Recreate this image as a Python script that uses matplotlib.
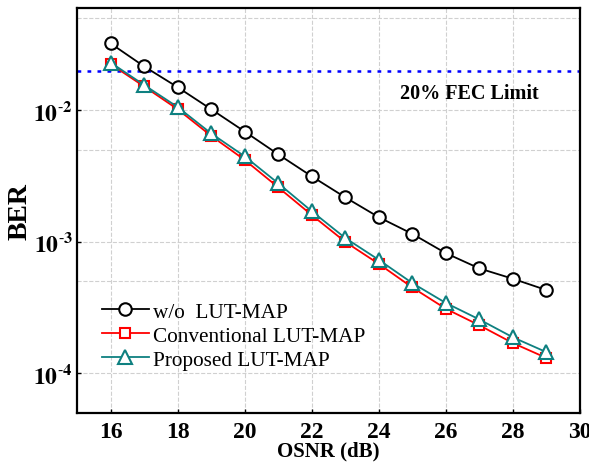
import numpy as np
import matplotlib
matplotlib.use("Agg")
import matplotlib.pyplot as plt
from matplotlib.ticker import FixedLocator, FuncFormatter

# 数据
osnr = [16, 17, 18, 19, 20, 21, 22, 23, 24, 25, 26, 27, 28, 29]
ber_wo = [0.0323, 0.0216, 0.0150, 0.0102, 0.0069, 0.00463, 0.00315, 0.00218,
          0.00154, 0.00115, 0.00082, 0.000628, 0.000524, 0.00043]
ber_conv = [0.0225, 0.0152, 0.0102, 0.0064, 0.0042, 0.0026, 0.0016, 0.00100,
            0.00068, 0.00045, 0.00031, 0.000232, 0.000170, 0.000131]
ber_prop = [0.0231, 0.0156, 0.0106, 0.00668, 0.00447, 0.00279, 0.00171, 0.00107,
            0.00073, 0.000486, 0.000343, 0.000257, 0.000188, 0.000145]
fec_limit = 2e-2
x_ticks = [16, 18, 20, 22, 24, 26, 28, 30]
y_ticks = [1e-4, 1e-3, 1e-2]
y_minor = [5e-4, 5e-3, 5e-2]

plt.rcParams['font.family'] = ['Liberation Serif', 'DejaVu Serif']
plt.rcParams['mathtext.fontset'] = 'stix'

fig = plt.figure(figsize=(5.89, 4.64), dpi=100)
ax = fig.add_axes([0.1307, 0.1078, 0.8540, 0.8728])

ax.axhline(fec_limit, color='blue', linestyle=(0, (1.5, 2.5)), linewidth=1.8, zorder=1)

ax.plot(osnr, ber_wo, color='black', linewidth=1.3, marker='o', markersize=9,
        markerfacecolor='white', markeredgewidth=1.5, label='w/o  LUT-MAP', zorder=3)
ax.plot(osnr, ber_conv, color='red', linewidth=1.3, marker='s', markersize=7.5,
        markerfacecolor='white', markeredgewidth=1.5, label='Conventional LUT-MAP', zorder=4)
ax.plot(osnr, ber_prop, color='#0e8080', linewidth=1.3, marker='^', markersize=10,
        markerfacecolor='white', markeredgewidth=1.5, label='Proposed LUT-MAP', zorder=5)

ax.set_yscale('log')
ax.set_xlim(15, 30)
ax.set_ylim(5e-5, 0.06)

ax.xaxis.set_major_locator(FixedLocator(x_ticks))
ax.yaxis.set_major_locator(FixedLocator(y_ticks))
ax.yaxis.set_minor_locator(FixedLocator(y_minor))
ax.yaxis.set_major_formatter(FuncFormatter(
    lambda v, p: r'$\mathbf{10}^{\text{-}\mathbf{%d}}$' % abs(int(round(np.log10(v))))))
ax.yaxis.set_minor_formatter(FuncFormatter(lambda v, p: ''))

ax.tick_params(axis='both', which='major', direction='in', length=3, width=1,
               labelsize=17)
ax.tick_params(axis='both', which='minor', length=0)
ax.tick_params(axis='x', pad=6)
ax.tick_params(axis='y', pad=3)
for lab in ax.get_xticklabels():
    lab.set_fontweight('bold')

ax.grid(True, which='both', color='#d0d0d0', linestyle='--', linewidth=0.8)
ax.set_axisbelow(True)
for s in ax.spines.values():
    s.set_linewidth(1.6)

ax.set_xlabel('OSNR (dB)', fontsize=15, fontweight='bold', labelpad=-1)
ax.set_ylabel('BER', fontsize=20, fontweight='bold')
ax.yaxis.set_label_coords(-0.0875, 0.5)

ax.text(26.7, 0.0136, '20% FEC Limit', fontsize=14.5, fontweight='bold',
        ha='center', va='center')

ax.legend(loc='lower left', bbox_to_anchor=(0.02, 0.07), frameon=False,
          fontsize=15.3, handlelength=2.2, handletextpad=0.2, labelspacing=0.2,
          borderpad=0.2)

fig.savefig('out.png', dpi=100)
